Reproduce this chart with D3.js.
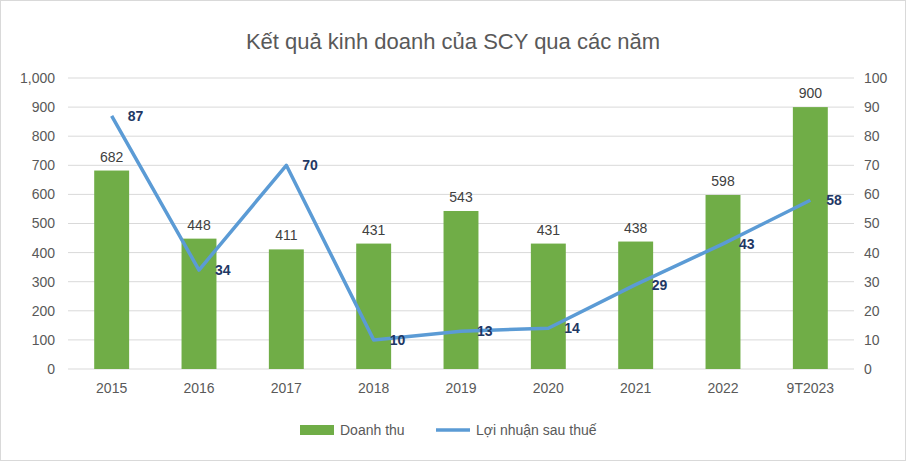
<!DOCTYPE html>
<html><head><meta charset="utf-8">
<script src="https://cdn.jsdelivr.net/npm/d3@7"></script>
<style>body{margin:0;background:#fff;font-family:Calibri,Carlito,"Open Sans",sans-serif}</style>
</head><body>
<svg id="c" width="914" height="469"></svg>
<script>
const categories=["2015","2016","2017","2018","2019","2020","2021","2022","9T2023"];
const revenue=[682,448,411,431,543,431,438,598,900];
const profit=[87,34,70,10,13,14,29,43,58];
const leftTicks=[0,100,200,300,400,500,600,700,800,900,1000];
const rightTicks=[0,10,20,30,40,50,60,70,80,90,100];

const svg=d3.select("#c");
svg.append("rect").attr("x",0.5).attr("y",0.5).attr("width",905).attr("height",460).attr("fill","#fff").attr("stroke","#d9d9d9");
const x=d3.scaleBand().domain(categories).range([68,854]).paddingInner(0.6).paddingOuter(0.3);
const yL=d3.scaleLinear().domain([0,1000]).range([369,78]);
const yR=d3.scaleLinear().domain([0,100]).range([369,78]);
const font="Liberation Sans, Arial, sans-serif";

svg.append("text").attr("x",453).attr("y",49).attr("text-anchor","middle").attr("font-size",22).attr("fill","#595959").attr("font-family",font).text("Kết quả kinh doanh của SCY qua các năm");

svg.append("g").selectAll("line").data(leftTicks).join("line")
 .attr("x1",68).attr("x2",854).attr("y1",d=>yL(d)).attr("y2",d=>yL(d)).attr("stroke","#d9d9d9");

const gl=svg.append("g").attr("transform","translate(68,0)").call(d3.axisLeft(yL).tickValues(leftTicks).tickSize(0).tickPadding(13));
const gr=svg.append("g").attr("transform","translate(854,0)").call(d3.axisRight(yR).tickValues(rightTicks).tickSize(0).tickPadding(10));
const gx=svg.append("g").attr("transform","translate(0,369)").call(d3.axisBottom(x).tickSize(0).tickPadding(14));
[gl,gr,gx].forEach(g=>{g.select(".domain").remove();g.selectAll("text").attr("font-size",14).attr("fill","#595959").attr("font-family",font);});

svg.append("g").selectAll("rect").data(revenue).join("rect")
 .attr("x",(d,i)=>x(categories[i])).attr("width",x.bandwidth())
 .attr("y",d=>yL(d)).attr("height",d=>369-yL(d)).attr("fill","#70ad47");
svg.append("g").selectAll("text").data(revenue).join("text")
 .attr("x",(d,i)=>x(categories[i])+x.bandwidth()/2).attr("y",d=>yL(d)-9)
 .attr("text-anchor","middle").attr("font-size",14).attr("fill","#404040").attr("font-family",font).text(d=>d);

const cx=i=>x(categories[i])+x.bandwidth()/2;
svg.append("path").datum(profit).attr("fill","none").attr("stroke","#5b9bd5").attr("stroke-width",3.5)
 .attr("stroke-linejoin","round").attr("d",d3.line().x((d,i)=>cx(i)).y(d=>yR(d)));
svg.append("g").selectAll("text").data(profit).join("text")
 .attr("x",(d,i)=>cx(i)+16).attr("y",d=>yR(d)+5)
 .attr("font-size",14).attr("font-weight","bold").attr("fill","#1f3864").attr("font-family",font).text(d=>d);

const lg=svg.append("g").attr("font-family",font).attr("font-size",14).attr("fill","#595959");
lg.append("rect").attr("x",300).attr("y",425).attr("width",34).attr("height",10).attr("fill","#70ad47");
lg.append("text").attr("x",340).attr("y",435).text("Doanh thu");
lg.append("line").attr("x1",436).attr("x2",470).attr("y1",430).attr("y2",430).attr("stroke","#5b9bd5").attr("stroke-width",3.5);
lg.append("text").attr("x",476).attr("y",435).text("Lợi nhuận sau thuế");
</script></body></html>
